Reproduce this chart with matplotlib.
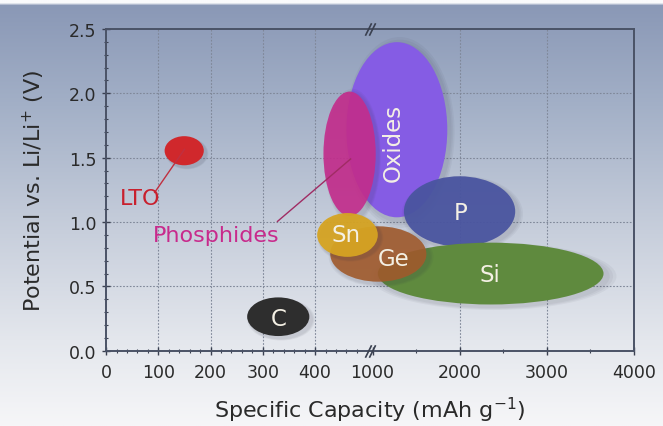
import numpy as np
import matplotlib
matplotlib.use("Agg")
import matplotlib.pyplot as plt
from matplotlib.patches import Ellipse
from matplotlib.ticker import FixedLocator, FixedFormatter
import matplotlib.transforms as mtransforms

# ---------------- data ----------------
materials = ["Oxides", "Phosphides", "P", "Si", "Ge", "Sn", "LTO", "C"]
cap_left = [460, 416, 1360, 1060, 429, 404, 112, 270]        # mAh/g
cap_right = [1858, 1036, 2638, 3652, 1618, 1060, 187, 389]   # mAh/g
pot_center = [1.717, 1.53, 1.083, 0.60, 0.752, 0.90, 1.554, 0.265]  # V
pot_height = [1.36, 0.966, 0.545, 0.48, 0.43, 0.34, 0.226, 0.30]     # V
colors = ["#855ce4", "#c42c8c", "#4a55a0", "#5f8a3e", "#a05a2c", "#d6a422",
          "#d0282c", "#2e2e2e"]
alphas = [1.0, 0.9, 0.95, 1.0, 0.9, 0.95, 1.0, 1.0]

# in-bubble labels
inner_labels = ["Oxides", "P", "Si", "Ge", "Sn", "C"]
inner_x = [1232, 2008, 2346, 1240, 460, 331]
inner_y = [1.62, 1.075, 0.59, 0.72, 0.90, 0.255]
inner_rot = [90, 0, 0, 0, 0, 0]

# outside labels with leader lines
out_labels = ["LTO", "Phosphides"]
out_x = [66, 210]
out_y = [1.19, 0.90]
out_colors = ["#c8202e", "#c82a8c"]
lead_x0 = [93, 328]
lead_y0 = [1.23, 1.005]
lead_x1 = [150, 468]
lead_y1 = [1.565, 1.49]
lead_colors = ["#c03040", "#a02c64"]

x_major_left = [0, 100, 200, 300, 400]
x_major_right = [1000, 2000, 3000, 4000]
x_minor = list(range(20, 500, 20)) + [1500, 2500, 3500]
x_grid = [100, 200, 300, 400, 2000, 3000]
y_major = [0.0, 0.5, 1.0, 1.5, 2.0, 2.5]

GAP = 10.0


def fwd(x):
    x = np.asarray(x, dtype=float)
    return np.where(x <= 500, x,
                    np.where(x <= 1000, 500 + (x - 500) * GAP / 500,
                             500 + GAP + (x - 1000) / 6.0))


def inv(u):
    u = np.asarray(u, dtype=float)
    return np.where(u <= 500, u,
                    np.where(u <= 500 + GAP, 500 + (u - 500) * 500 / GAP,
                             1000 + (u - 500 - GAP) * 6.0))


# ---------------- figure ----------------
fig = plt.figure(figsize=(6.63, 4.27), dpi=100)

# background gradient
bg = fig.add_axes([0, 0, 1, 1], zorder=-10)
stops_pos = [0.0, 0.008, 0.014, 0.25, 0.55, 0.8, 1.0]
stops_col = np.array([[250, 250, 252], [250, 250, 252], [138, 152, 182],
                      [163, 176, 199], [200, 207, 220],
                      [228, 231, 237], [246, 246, 248]]) / 255.0
t = np.linspace(0, 1, 427)
grad = np.stack([np.interp(t, stops_pos, stops_col[:, k]) for k in range(3)], axis=1)
img = np.repeat(grad[:, None, :], 10, axis=1)
bg.imshow(img, aspect="auto", extent=[0, 1, 0, 1], origin="upper", interpolation="bilinear")
bg.set_axis_off()

ax = fig.add_axes([0.160, 0.176, 0.796, 0.754])
ax.set_facecolor("none")
ax.set_xscale("function", functions=(fwd, inv))
ax.set_xlim(0, 4000)
ax.set_ylim(0, 2.5)

# grid
for gx in x_grid:
    ax.axvline(gx, color="#7f8798", lw=0.8, ls=(0, (1.5, 1.5)), zorder=1)
for gy in y_major[1:-1]:
    ax.axhline(gy, color="#7f8798", lw=0.8, ls=(0, (1.5, 1.5)), zorder=1)

# ellipses in scaled coordinates
trans_scaled = ax.transLimits + ax.transAxes
shadow_off = mtransforms.ScaledTranslation(2.0 / 72, -2.0 / 72, fig.dpi_scale_trans)
for i, name in enumerate(materials):
    ul = float(fwd(cap_left[i]))
    ur = float(fwd(cap_right[i]))
    cx = (ul + ur) / 2
    w = ur - ul
    cy = pot_center[i]
    h = pot_height[i]
    z = 2 + i * 0.1
    for k, a in enumerate([0.05, 0.05, 0.05]):
        sh = Ellipse((cx, cy), w * (1.0 + 0.03 * (k + 1)), h * (1.0 + 0.03 * (k + 1)),
                     transform=trans_scaled + shadow_off, facecolor="#303040",
                     edgecolor="none", alpha=a, zorder=z - 0.05)
        ax.add_patch(sh)
    e = Ellipse((cx, cy), w, h, transform=trans_scaled, facecolor=colors[i],
                edgecolor="none", alpha=alphas[i], zorder=z)
    ax.add_patch(e)

for lab, x, y, r in zip(inner_labels, inner_x, inner_y, inner_rot):
    ax.text(x, y, lab, color="#f4f0e4", fontsize=16.5, ha="center", va="center",
            rotation=r, zorder=5)

for i, lab in enumerate(out_labels):
    ax.plot([lead_x0[i], lead_x1[i]], [lead_y0[i], lead_y1[i]], color=lead_colors[i],
            lw=1.0, zorder=4)
    ax.text(out_x[i], out_y[i], lab, color=out_colors[i], fontsize=16, ha="center",
            va="center", zorder=5)

# ticks
ax.xaxis.set_major_locator(FixedLocator(x_major_left + x_major_right))
ax.xaxis.set_major_formatter(FixedFormatter([str(v) for v in x_major_left + x_major_right]))
ax.xaxis.set_minor_locator(FixedLocator(x_minor))
ax.yaxis.set_major_locator(FixedLocator(y_major))
ax.yaxis.set_major_formatter(FixedFormatter(["%.1f" % v for v in y_major]))
ax.yaxis.set_minor_locator(FixedLocator(np.arange(0.1, 2.5, 0.1)))
ax.tick_params(which="major", direction="inout", length=6, width=1.0,
               color="#3a4050", labelsize=12.5, labelcolor="#2a2a2a", pad=4)
ax.tick_params(which="minor", direction="inout", length=3, width=0.8, color="#3a4050")
ax.tick_params(top=False, right=False, which="both")
ax.tick_params(axis="x", which="major", pad=6)

for s in ax.spines.values():
    s.set_color("#4a5266")
    s.set_linewidth(1.4)

# break marks
for by in [0.0, 1.0]:
    for bx in [560, 940]:
        ax.plot([bx], [by], marker=[(-1, -2), (1, 2)], markersize=9, color="#3a4050",
                mew=1.2, transform=ax.get_xaxis_transform(), clip_on=False, zorder=6)

ax.set_xlabel("Specific Capacity (mAh g$^{-1}$)", fontsize=16, color="#2a2a2a", labelpad=10)
ax.set_ylabel("Potential vs. Li/Li$^{+}$ (V)", fontsize=16, color="#2a2a2a", labelpad=16)

fig.savefig("out.png", dpi=100)
